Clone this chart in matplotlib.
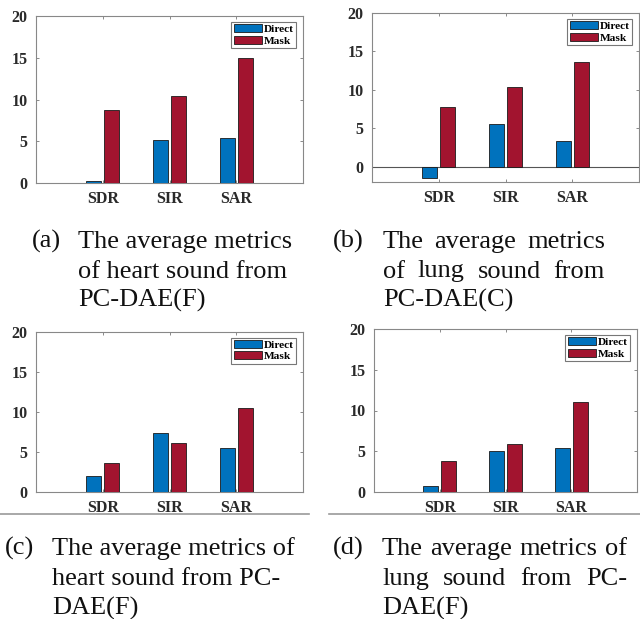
import matplotlib
matplotlib.use("Agg")
import matplotlib.pyplot as plt
from matplotlib.lines import Line2D
import numpy as np

# ---- data -------------------------------------------------------------
metrics = ["SDR", "SIR", "SAR"]
series_names = ["Direct", "Mask"]

heart_f_direct = [0.28, 5.10, 5.38]
heart_f_mask = [8.76, 10.47, 15.0]

lung_c_direct = [-1.43, 5.57, 3.39]
lung_c_mask = [7.74, 10.35, 13.6]

heart_f2_direct = [2.0, 7.33, 5.46]
heart_f2_mask = [3.58, 6.08, 10.46]

lung_f_direct = [0.74, 5.04, 5.41]
lung_f_mask = [3.80, 5.86, 11.07]

y_ticks = [0, 5, 10, 15, 20]

caption_a = ["The average metrics", "of heart sound from", "PC-DAE(F)"]
caption_b = ["The average metrics", "of lung sound from", "PC-DAE(C)"]
caption_c = ["The average metrics of", "heart sound from PC-", "DAE(F)"]
caption_d = ["The average metrics of", "lung sound from PC-", "DAE(F)"]

# ---- style ------------------------------------------------------------
BLUE = "#0072BD"
RED = "#A2142F"
SERIF = "Liberation Serif"
W, H = 640, 619

fig = plt.figure(figsize=(W / 100, H / 100), dpi=100)


def px_axes(x0, y0, x1, y1):
    """Axes from pixel box (top-left origin)."""
    return fig.add_axes([x0 / W, 1 - y1 / H, (x1 - x0) / W, (y1 - y0) / H])


def bar_panel(ax, direct, mask, ylim, zero_line=False):
    x = np.arange(1, len(metrics) + 1)
    bw, off = 0.23, 0.135
    ax.bar(x - off, direct, bw, color=BLUE, edgecolor="#1a1a1a", linewidth=0.6,
           label=series_names[0], zorder=3)
    ax.bar(x + off, mask, bw, color=RED, edgecolor="#1a1a1a", linewidth=0.6,
           label=series_names[1], zorder=3)
    ax.set_xlim(0, 4)
    ax.set_ylim(*ylim)
    ax.set_xticks(x)
    ax.set_xticklabels(metrics)
    ax.set_yticks(y_ticks)
    ax.tick_params(direction="in", top=True, right=True, length=2.5,
                   width=0.6, color="#777777", pad=6)
    for lab in ax.get_xticklabels() + ax.get_yticklabels():
        lab.set_fontfamily(SERIF)
        lab.set_fontweight("bold")
        lab.set_fontsize(11.5)
        lab.set_color("#2a2a2a")
    for s in ax.spines.values():
        s.set_color("#888888")
        s.set_linewidth(0.8)
    if zero_line:
        ax.axhline(0, color="#555555", linewidth=0.8, zorder=2)
    leg = ax.legend(loc="upper right", bbox_to_anchor=(0.975, 0.965),
                    prop={"family": SERIF, "weight": "bold", "size": 8.2},
                    handlelength=2.5, handleheight=0.7, handletextpad=0.15,
                    labelspacing=0.12, borderpad=0.22, borderaxespad=0.0,
                    fancybox=False, framealpha=1)
    leg.get_frame().set_edgecolor("#777777")
    leg.get_frame().set_linewidth(0.8)


ax_a = px_axes(36, 16, 303, 183)
bar_panel(ax_a, heart_f_direct, heart_f_mask, (0, 20))

ax_b = px_axes(372, 13, 639, 182)
bar_panel(ax_b, lung_c_direct, lung_c_mask, (-2, 20), zero_line=True)

ax_c = px_axes(36, 332, 303, 492)
bar_panel(ax_c, heart_f2_direct, heart_f2_mask, (0, 20))

ax_d = px_axes(374, 329, 637, 492)
bar_panel(ax_d, lung_f_direct, lung_f_mask, (0, 20))

# ---- separators under the lower panels --------------------------------
for x0, x1 in [(0, 309), (329, 640)]:
    fig.add_artist(Line2D([x0 / W, x1 / W], [1 - 514 / H, 1 - 514 / H],
                          transform=fig.transFigure, color="#9a9a9a",
                          linewidth=1.2))

# ---- captions ---------------------------------------------------------
renderer = fig.canvas.get_renderer()
CAP_SIZE = 19


def put(text, x, y):
    return fig.text(x / W, 1 - y / H, text, family=SERIF, size=CAP_SIZE,
                    va="baseline", ha="left", color="#111111")


def caption(tag, tag_x, text_x, lines, baselines, justify_to=None):
    put(tag, tag_x, baselines[0])
    for i, (line, yb) in enumerate(zip(lines, baselines)):
        last = i == len(lines) - 1
        if justify_to is None or last:
            put(line, text_x, yb)
            continue
        words = line.split(" ")
        widths = []
        for w in words:
            t = put(w, 0, yb)
            widths.append(t.get_window_extent(renderer).width)
            t.remove()
        gap = (justify_to - text_x - sum(widths)) / (len(words) - 1)
        xc = text_x
        for w, wd in zip(words, widths):
            put(w, xc, yb)
            xc += wd + gap


caption("(a)", 32, 78, caption_a, [248, 277.5, 307])
caption("(b)", 333, 383, caption_b, [248, 277.5, 307], justify_to=605)
caption("(c)", 5, 52, caption_c, [555, 585, 615])
caption("(d)", 333, 382, caption_d, [555, 585, 615], justify_to=627)

fig.savefig("out.png", dpi=100)
